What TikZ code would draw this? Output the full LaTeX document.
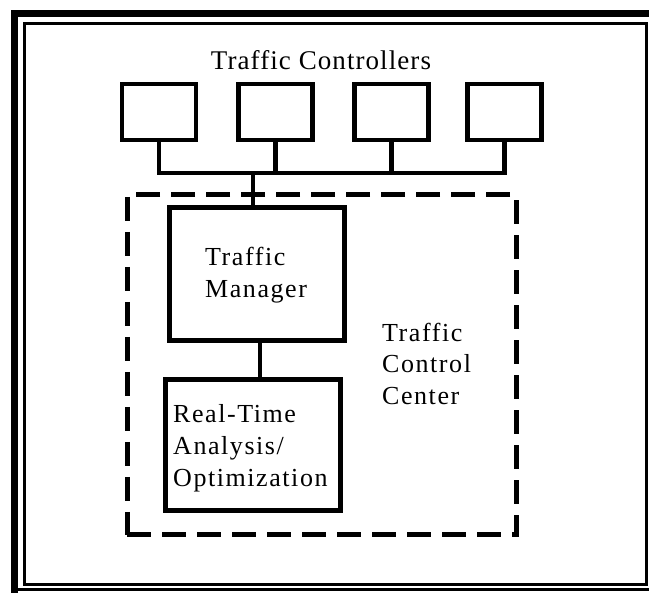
\documentclass[tikz,border=0pt]{standalone}
\usepackage{fontspec}
\setmainfont{Liberation Serif}[Ligatures=CommonOff]
\begin{document}
\begin{tikzpicture}[x=1pt,y=-1pt,
  ctrl/.style={draw, line width=4.5pt, minimum width=74pt, minimum height=56pt, inner sep=0pt, outer sep=0pt},
  bigbox/.style={draw, line width=4.8pt, inner sep=0pt, outer sep=0pt},
  wire/.style={line width=4.2pt},
  dashbox/.style={draw, line width=5pt, dash pattern=on 24pt off 11pt, inner sep=0pt, outer sep=0pt},
  lbl/.style={inner sep=0pt, anchor=base west, font=\fontsize{26}{32}\selectfont\addfontfeature{LetterSpace=6}},
  ttl/.style={inner sep=0pt, anchor=base, font=\fontsize{27}{32}\selectfont\addfontfeature{LetterSpace=4}}]
\useasboundingbox (0,0) rectangle (649,593);
% frame
\draw[line width=7.5pt] (649,13.5) -- (14.5,13.5) -- (14.5,593);
\draw[line width=3pt] (14.5,590) -- (649,590);
\draw[line width=3pt] (24.5,23.5) rectangle (646,584.5);
% title
\node[ttl] (title) at (321,70) {Traffic Controllers};
% controllers
\node[ctrl] (c1) at (159,112) {};
\node[ctrl] (c2) at (275.5,112) {};
\node[ctrl] (c3) at (391.5,112) {};
\node[ctrl] (c4) at (504.5,112) {};
\coordinate (bus) at (253,173);
\draw[wire] (c1.south) -- (c1.south |- bus) -- (c4.south |- bus) -- (c4.south);
\draw[wire] (c2.south) -- (c2.south |- bus);
\draw[wire] (c3.south) -- (c3.south |- bus);
% control center
\node[dashbox, minimum width=389pt, minimum height=340pt] (tcc) at (321.5,365) {};
\node[bigbox, minimum width=175pt, minimum height=133pt] (mgr) at (257,274) {};
\node[bigbox, minimum width=175pt, minimum height=131pt] (rt) at (253,445) {};
\draw[wire] (bus) -- (bus |- mgr.north);
\coordinate (link) at (260,360);
\draw[wire] (link |- mgr.south) -- (link |- rt.north);
% texts
\node[lbl] (m1) at (205,266) {Traffic};
\node[lbl] (m2) at (205,298) {Manager};
\node[lbl] (r1) at (173,423) {Real-Time};
\node[lbl] (r2) at (173,455) {Analysis/};
\node[lbl] (r3) at (173,487) {Optimization};
\node[lbl] (t1) at (382,342) {Traffic};
\node[lbl] (t2) at (382,373) {Control};
\node[lbl] (t3) at (382,405) {Center};
\end{tikzpicture}
\end{document}
